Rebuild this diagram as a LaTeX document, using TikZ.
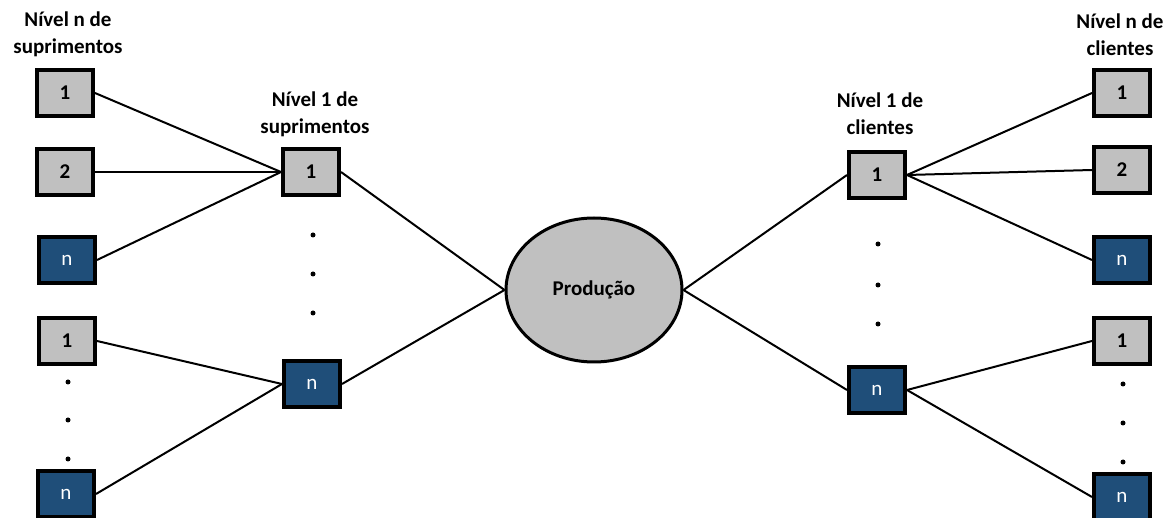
\documentclass[tikz,border=0pt]{standalone}
\usepackage{fontspec}
\setmainfont{Carlito}
\usetikzlibrary{shapes.geometric}
\definecolor{boxgray}{HTML}{C0C0C0}
\definecolor{boxblue}{HTML}{1F4E79}
\tikzset{
  graybox/.style={draw=black, line width=4pt, fill=boxgray, minimum width=56pt, minimum height=46pt, inner sep=0pt, font=\fontsize{21}{23}\selectfont\bfseries},
  bluebox/.style={draw=black, line width=4pt, fill=boxblue, minimum width=56pt, minimum height=46pt, inner sep=0pt, text=white, font=\fontsize{21}{23}\selectfont},
  lbl/.style={align=center, font=\fontsize{21}{27}\selectfont\bfseries, inner sep=0pt},
  dotn/.style={circle, fill=black, inner sep=0pt, minimum size=5pt},
  conn/.style={line width=2pt}
}
\begin{document}
\begin{tikzpicture}[x=1pt, y=-1pt]
\useasboundingbox (0,0) rectangle (1168,518);
% labels
\node[lbl] (tl) at (68,34) {Nível n de\\suprimentos};
\node[lbl] (l1l) at (315,114) {Nível 1 de\\suprimentos};
\node[lbl] (r1l) at (880,114) {Nível 1 de\\clientes};
\node[lbl] (trl) at (1120,35) {Nível n de\\clientes};
% left outer
\node[graybox] (a1) at (65,93) {1};
\node[graybox] (a2) at (65,172) {2};
\node[bluebox] (an) at (67,260) {n};
\node[graybox] (b1) at (67,341) {1};
\node[dotn] (bd1) at (68,382) {};
\node[dotn] (bd2) at (68,420) {};
\node[dotn] (bd3) at (68,459) {};
\node[bluebox] (bn) at (66,494) {n};
% left level 1
\node[graybox] (s1) at (311,172) {1};
\node[dotn] (sd1) at (313,235) {};
\node[dotn] (sd2) at (313,274) {};
\node[dotn] (sd3) at (313,313) {};
\node[bluebox] (sn) at (312,384) {n};
% center
\node[ellipse, draw=black, line width=3pt, fill=boxgray, minimum width=176pt, minimum height=144pt, inner sep=0pt, font=\fontsize{21}{23}\selectfont\bfseries] (p) at (594,290) {Produção};
% right level 1
\node[graybox] (c1) at (877,175) {1};
\node[dotn] (cd1) at (878,244) {};
\node[dotn] (cd2) at (878,285) {};
\node[dotn] (cd3) at (878,324) {};
\node[bluebox] (cn) at (877,390) {n};
% right outer
\node[graybox] (d1) at (1122,93) {1};
\node[graybox] (d2) at (1122,170) {2};
\node[bluebox] (dn) at (1122,260) {n};
\node[graybox] (e1) at (1122,341) {1};
\node[dotn] (ed1) at (1123,384) {};
\node[dotn] (ed2) at (1123,423) {};
\node[dotn] (ed3) at (1123,462) {};
\node[bluebox] (en) at (1122,497) {n};
% connectors
\draw[conn] (a1.east) -- (s1.west);
\draw[conn] (a2.east) -- (s1.west);
\draw[conn] (an.east) -- (s1.west);
\draw[conn] (b1.east) -- (sn.west);
\draw[conn] (bn.east) -- (sn.west);
\draw[conn] (s1.east) -- (p.west);
\draw[conn] (sn.east) -- (p.west);
\draw[conn] (p.east) -- (c1.west);
\draw[conn] (p.east) -- (cn.west);
\draw[conn] (c1.east) -- (d1.west);
\draw[conn] (c1.east) -- (d2.west);
\draw[conn] (c1.east) -- (dn.west);
\draw[conn] (cn.east) -- (e1.west);
\draw[conn] (cn.east) -- (en.west);
\end{tikzpicture}
\end{document}
